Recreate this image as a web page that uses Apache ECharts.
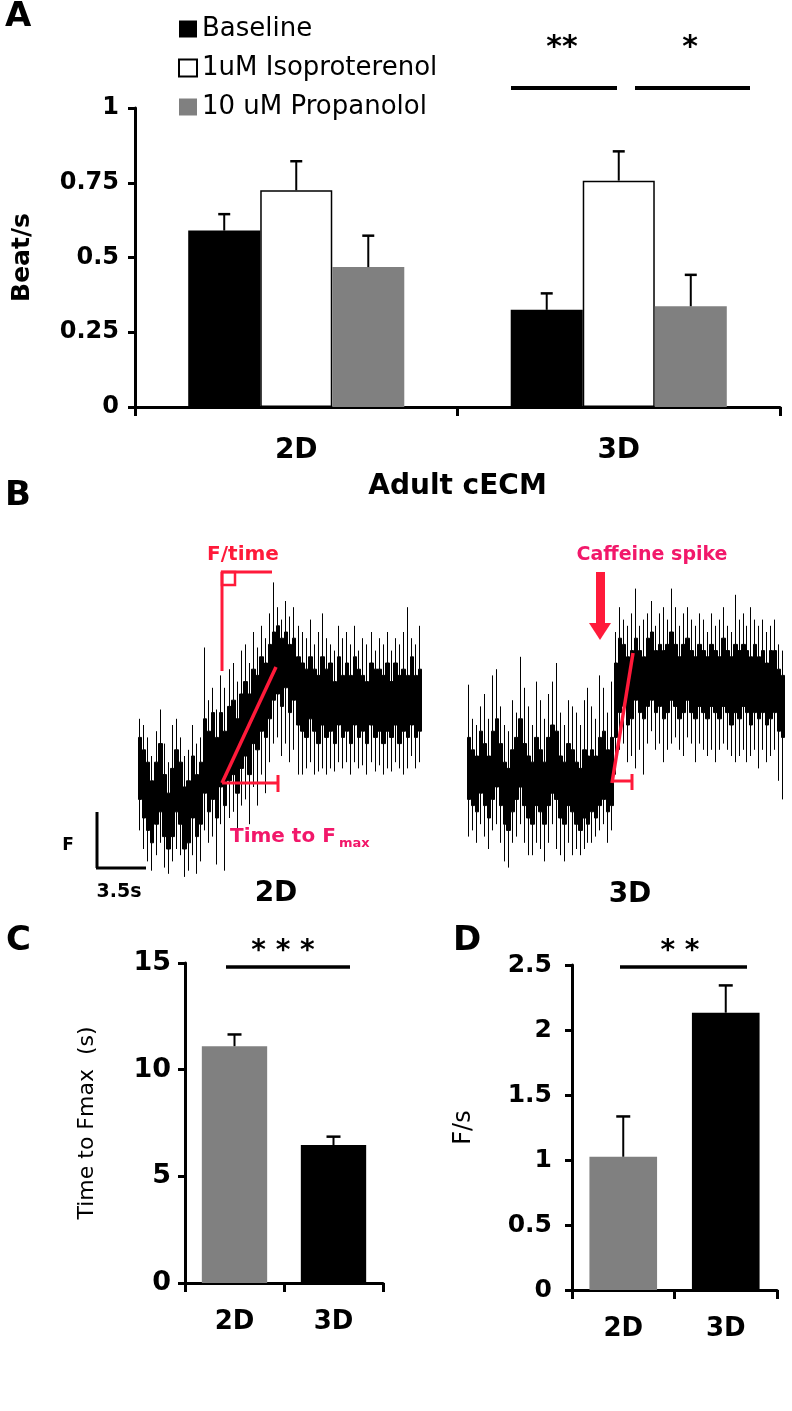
<!DOCTYPE html>
<html>
<head>
<meta charset="utf-8">
<script src="https://cdn.jsdelivr.net/npm/echarts@6/dist/echarts.min.js"></script>
<style>
html,body{margin:0;padding:0;background:#fff;}
#chart{width:792px;height:1411px;}
</style>
</head>
<body>
<div id="chart"></div>
<script>
// ---------- Panel A data ----------
const groupsA = ['2D', '3D'];
const seriesNamesA = ['Baseline', '1uM Isoproterenol', '10 uM Propanolol'];
const baseline = [0.59, 0.325];
const baselineErr = [0.055, 0.055];
const isoproterenol = [0.725, 0.757];
const isoproterenolErr = [0.097, 0.098];
const propanolol = [0.468, 0.337];
const propanololErr = [0.105, 0.105];

// ---------- Panel C / D data ----------
const groupsCD = ['2D', '3D'];
const timeToFmax = [11.1, 6.47];
const timeToFmaxErr = [0.55, 0.39];
const fPerS = [1.025, 2.133];
const fPerSErr = [0.31, 0.21];

// ---------- Panel B traces: [open, close, low, high] in arbitrary F units ----------
const trace2D = [
 [26,46,16,52],[20,42,10,50],[16,38,6,46],[12,32,3,40],[18,38,8,48],[22,44,12,55],[14,34,4,44],[10,28,2,38],
 [14,36,6,50],[22,42,10,52],[18,38,8,46],[10,30,1,40],[12,32,3,42],[20,40,8,50],[14,34,2,44],[18,38,6,46],
 [28,52,16,75],[22,48,12,58],[26,54,14,62],[20,46,5,55],[30,54,18,66],[24,48,3,62],[32,56,20,68],
 [34,58,22,70],[28,52,16,64],[36,60,24,74],[40,64,26,76],[34,60,18,70],[44,68,30,80],[42,66,24,75],
 [48,72,34,82],[46,70,28,78],[52,76,38,86],[58,80,44,96],
 [60,82,46,88],[56,78,40,84],[62,80,44,90],[54,76,38,85],[58,78,42,88],[50,72,34,82],
 [48,70,34,80],[46,68,36,78],[52,72,38,84],[48,68,34,76],[44,66,35,80],[50,72,36,86],[46,68,34,78],[48,70,36,76],
 [44,64,35,74],[50,72,38,82],[46,66,36,78],[48,70,38,80],[44,66,34,76],[50,72,38,82],[46,68,36,74],[48,66,37,78],
 [44,64,34,76],[50,70,38,80],[46,68,35,74],[48,68,37,78],[44,66,34,76],[48,70,36,80],[46,64,35,74],[50,70,38,78],
 [44,66,36,76],[48,68,34,80],[46,66,36,88],[50,72,40,78],[46,66,36,76],[48,68,38,82]
];
const trace3D = [
 [26,46,14,63],[24,42,16,52],[22,40,12,50],[28,48,18,56],[24,44,14,60],[20,40,10,52],[26,48,16,66],[30,52,18,68],
 [24,44,12,56],[18,38,6,50],[16,36,4,48],[22,42,12,58],[26,46,14,54],[30,52,18,72],[24,44,12,62],[20,40,8,56],
 [18,38,8,50],[24,46,12,64],[22,42,10,58],[18,38,6,52],[24,46,12,60],[28,50,18,64],[26,48,10,70],[20,40,8,54],
 [18,38,6,50],[24,44,12,58],[22,42,8,56],[18,38,10,54],[16,36,8,50],[20,42,10,58],[18,40,12,62],[22,42,12,56],
 [20,40,14,52],[24,46,16,66],[26,48,18,62],[22,42,12,54],[24,46,16,64],
 [46,70,34,80],[54,78,42,88],[56,76,44,84],[50,72,38,82],[52,74,40,86],[58,78,36,94],[54,74,42,82],[52,72,34,84],
 [56,78,44,86],[58,80,48,90],[54,74,42,82],[56,76,44,86],[52,74,38,88],[54,76,42,84],[58,80,44,94],[56,76,46,88],
 [52,72,42,82],[54,76,40,86],[58,78,46,88],[54,74,44,84],[52,72,38,82],[56,76,44,86],[54,74,42,84],[52,72,40,80],
 [56,76,42,86],[54,74,38,82],[52,72,42,84],[56,78,44,88],[54,74,42,82],[50,72,40,80],[54,76,38,92],[52,74,40,84],
 [56,76,42,86],[54,74,38,82],[50,72,40,88],[54,76,42,84],[52,72,36,82],[54,74,42,84],[50,70,38,80],[52,74,40,82],
 [54,74,42,84],[48,68,32,76],[46,66,26,74]
];

const FONT = 'DejaVu Sans';
const RED = '#ff1a3a';
const PINK = '#f2186a';

function errRenderer(nSeries, gapFrac, capW) {
  return function (params, api) {
    const cat = api.value(0), si = api.value(1), v = api.value(2), e = api.value(3);
    const band = api.size([1, 0])[0];
    const bw = band * (1 - gapFrac) / nSeries;
    const c0 = api.coord([cat, v]);
    const c1 = api.coord([cat, v + e]);
    const x = c0[0] + (si - (nSeries - 1) / 2) * bw;
    return {
      type: 'group',
      children: [
        {type: 'line', shape: {x1: x, y1: c0[1], x2: x, y2: c1[1]}, style: {stroke: '#000', lineWidth: 2}},
        {type: 'line', shape: {x1: x - capW / 2, y1: c1[1], x2: x + capW / 2, y2: c1[1]}, style: {stroke: '#000', lineWidth: 2.5}}
      ]
    };
  };
}

const errA = [];
[baselineErr, isoproterenolErr, propanololErr].forEach((errs, si) => {
  const vals = [baseline, isoproterenol, propanolol][si];
  errs.forEach((e, ci) => errA.push([ci, si, vals[ci], e]));
});
const errC = timeToFmax.map((v, i) => [i, 0, v, timeToFmaxErr[i]]);
const errD = fPerS.map((v, i) => [i, 0, v, fPerSErr[i]]);

const axisLineStyle = {show: true, lineStyle: {color: '#000', width: 3}};
const tickStyle = {show: true, length: 7, lineStyle: {color: '#000', width: 3}};
const boldLabel = (size, margin) => ({color: '#000', fontFamily: FONT, fontWeight: 'bold', fontSize: size, margin: margin});
const candleStyle = {color: '#000', color0: '#1a1a1a', borderColor: '#000', borderColor0: '#333', borderWidth: 1};

const chart = echarts.init(document.getElementById('chart'), null, {renderer: 'canvas'});

const option = {
  animation: false,
  backgroundColor: '#fff',
  textStyle: {fontFamily: FONT},
  legend: {
    orient: 'vertical', left: 173, top: 11, itemWidth: 18, itemHeight: 17, itemGap: 13,
    icon: 'rect',
    data: seriesNamesA,
    textStyle: {fontFamily: FONT, fontSize: 26, color: '#000', lineHeight: 26}
  },
  grid: [
    {left: 135, top: 108, width: 645, height: 299},      // A
    {left: 138, top: 570, width: 284, height: 310},      // B 2D trace
    {left: 467, top: 570, width: 318, height: 310},      // B 3D trace
    {left: 185, top: 963, width: 198, height: 320},      // C
    {left: 572, top: 965, width: 205, height: 325}       // D
  ],
  xAxis: [
    {gridIndex: 0, type: 'category', data: groupsA,
     axisLine: axisLineStyle, axisTick: Object.assign({}, tickStyle, {length: 9}),
     axisLabel: boldLabel(28, 30),
     name: 'Adult cECM', nameLocation: 'middle', nameGap: 66,
     nameTextStyle: {color: '#000', fontFamily: FONT, fontWeight: 'bold', fontSize: 28}},
    {gridIndex: 1, type: 'category', data: trace2D.map((d, i) => i), show: false},
    {gridIndex: 2, type: 'category', data: trace3D.map((d, i) => i), show: false},
    {gridIndex: 3, type: 'category', data: groupsCD,
     axisLine: axisLineStyle, axisTick: Object.assign({}, tickStyle, {length: 9}),
     axisLabel: boldLabel(26, 26)},
    {gridIndex: 4, type: 'category', data: groupsCD,
     axisLine: axisLineStyle, axisTick: Object.assign({}, tickStyle, {length: 9}),
     axisLabel: boldLabel(26, 26)}
  ],
  yAxis: [
    {gridIndex: 0, type: 'value', min: 0, max: 1, interval: 0.25,
     axisLine: axisLineStyle, axisTick: tickStyle, splitLine: {show: false},
     axisLabel: boldLabel(24, 16),
     name: 'Beat/s', nameLocation: 'middle', nameGap: 100,
     nameTextStyle: {color: '#000', fontFamily: FONT, fontWeight: 'bold', fontSize: 25}},
    {gridIndex: 1, type: 'value', min: 0, max: 100, show: false, splitLine: {show: false}},
    {gridIndex: 2, type: 'value', min: 0, max: 100, show: false, splitLine: {show: false}},
    {gridIndex: 3, type: 'value', min: 0, max: 15, interval: 5,
     axisLine: axisLineStyle, axisTick: tickStyle, splitLine: {show: false},
     axisLabel: boldLabel(27, 14),
     name: 'Time to Fmax  (s)', nameLocation: 'middle', nameGap: 87,
     nameTextStyle: {color: '#000', fontFamily: FONT, fontSize: 22}},
    {gridIndex: 4, type: 'value', min: 0, max: 2.5, interval: 0.5,
     axisLine: axisLineStyle, axisTick: tickStyle, splitLine: {show: false},
     axisLabel: boldLabel(25, 20),
     name: 'F/s', nameLocation: 'middle', nameGap: 96,
     nameTextStyle: {color: '#000', fontFamily: FONT, fontSize: 24}}
  ],
  series: [
    {name: seriesNamesA[0], type: 'bar', xAxisIndex: 0, yAxisIndex: 0, data: baseline,
     itemStyle: {color: '#000'}, barGap: '0%', barCategoryGap: '33%'},
    {name: seriesNamesA[1], type: 'bar', xAxisIndex: 0, yAxisIndex: 0, data: isoproterenol,
     itemStyle: {color: '#fff', borderColor: '#000', borderWidth: 1.5}, barGap: '0%', barCategoryGap: '33%'},
    {name: seriesNamesA[2], type: 'bar', xAxisIndex: 0, yAxisIndex: 0, data: propanolol,
     itemStyle: {color: '#808080'}, barGap: '0%', barCategoryGap: '33%'},
    {type: 'custom', xAxisIndex: 0, yAxisIndex: 0, data: errA, z: 5,
     encode: {x: 0, y: 2}, renderItem: errRenderer(3, 0.33, 12)},

    {type: 'candlestick', xAxisIndex: 1, yAxisIndex: 1, data: trace2D, barWidth: 4, itemStyle: candleStyle},
    {type: 'candlestick', xAxisIndex: 2, yAxisIndex: 2, data: trace3D, barWidth: 4, itemStyle: candleStyle},

    {type: 'bar', xAxisIndex: 3, yAxisIndex: 3, barCategoryGap: '34%',
     data: [{value: timeToFmax[0], itemStyle: {color: '#808080'}}, {value: timeToFmax[1], itemStyle: {color: '#000'}}]},
    {type: 'custom', xAxisIndex: 3, yAxisIndex: 3, data: errC, z: 5,
     encode: {x: 0, y: 2}, renderItem: errRenderer(1, 0.34, 14)},

    {type: 'bar', xAxisIndex: 4, yAxisIndex: 4, barCategoryGap: '34%',
     data: [{value: fPerS[0], itemStyle: {color: '#808080'}}, {value: fPerS[1], itemStyle: {color: '#000'}}]},
    {type: 'custom', xAxisIndex: 4, yAxisIndex: 4, data: errD, z: 5,
     encode: {x: 0, y: 2}, renderItem: errRenderer(1, 0.34, 14)}
  ],
  graphic: [
    // panel letters
    {type: 'text', left: 5, top: 0, style: {text: 'A', font: 'bold 34px "DejaVu Sans"', fill: '#000'}},
    {type: 'text', left: 5, top: 479, style: {text: 'B', font: 'bold 34px "DejaVu Sans"', fill: '#000'}},
    {type: 'text', left: 6, top: 924, style: {text: 'C', font: 'bold 34px "DejaVu Sans"', fill: '#000'}},
    {type: 'text', left: 453, top: 924, style: {text: 'D', font: 'bold 34px "DejaVu Sans"', fill: '#000'}},

    // significance, panel A
    {type: 'line', shape: {x1: 511, y1: 88, x2: 617, y2: 88}, style: {stroke: '#000', lineWidth: 4}},
    {type: 'line', shape: {x1: 635, y1: 88, x2: 750, y2: 88}, style: {stroke: '#000', lineWidth: 4}},
    {type: 'text', style: {text: '**', x: 562, y: 48, textAlign: 'center', textVerticalAlign: 'middle', font: 'bold 30px "DejaVu Sans"', fill: '#000'}},
    {type: 'text', style: {text: '*', x: 690, y: 48, textAlign: 'center', textVerticalAlign: 'middle', font: 'bold 30px "DejaVu Sans"', fill: '#000'}},

    // significance, panel C & D
    {type: 'line', shape: {x1: 226, y1: 967, x2: 350, y2: 967}, style: {stroke: '#000', lineWidth: 3.5}},
    {type: 'text', style: {text: '* * *', x: 283, y: 952, textAlign: 'center', textVerticalAlign: 'middle', font: 'bold 28px "DejaVu Sans"', fill: '#000'}},
    {type: 'line', shape: {x1: 620, y1: 967, x2: 747, y2: 967}, style: {stroke: '#000', lineWidth: 3.5}},
    {type: 'text', style: {text: '* *', x: 680, y: 952, textAlign: 'center', textVerticalAlign: 'middle', font: 'bold 28px "DejaVu Sans"', fill: '#000'}},

    // panel B scale bar
    {type: 'line', shape: {x1: 97, y1: 812, x2: 97, y2: 868}, style: {stroke: '#000', lineWidth: 3}},
    {type: 'line', shape: {x1: 96, y1: 868, x2: 146, y2: 868}, style: {stroke: '#000', lineWidth: 3}},
    {type: 'text', style: {text: 'F', x: 68, y: 846, textAlign: 'center', textVerticalAlign: 'middle', font: 'bold 17px "DejaVu Sans"', fill: '#000'}},
    {type: 'text', style: {text: '3.5s', x: 119, y: 892, textAlign: 'center', textVerticalAlign: 'middle', font: 'bold 19px "DejaVu Sans"', fill: '#000'}},
    {type: 'text', style: {text: '2D', x: 276, y: 894, textAlign: 'center', textVerticalAlign: 'middle', font: 'bold 28px "DejaVu Sans"', fill: '#000'}},
    {type: 'text', style: {text: '3D', x: 630, y: 895, textAlign: 'center', textVerticalAlign: 'middle', font: 'bold 28px "DejaVu Sans"', fill: '#000'}},

    // panel B red annotations, 2D
    {type: 'line', z: 100, shape: {x1: 222, y1: 572, x2: 222, y2: 671}, style: {stroke: RED, lineWidth: 3}},
    {type: 'line', z: 100, shape: {x1: 221, y1: 572, x2: 272, y2: 572}, style: {stroke: RED, lineWidth: 3}},
    {type: 'rect', z: 100, shape: {x: 222, y: 572, width: 13, height: 13}, style: {stroke: RED, fill: 'none', lineWidth: 2.5}},
    {type: 'text', z: 100, style: {text: 'F/time', x: 243, y: 555, textAlign: 'center', textVerticalAlign: 'middle', font: 'bold 20px "DejaVu Sans"', fill: RED}},
    {type: 'line', z: 100, shape: {x1: 222, y1: 783, x2: 276, y2: 667}, style: {stroke: RED, lineWidth: 3.5}},
    {type: 'line', z: 100, shape: {x1: 222, y1: 783, x2: 278, y2: 783}, style: {stroke: RED, lineWidth: 3}},
    {type: 'line', z: 100, shape: {x1: 278, y1: 775, x2: 278, y2: 792}, style: {stroke: RED, lineWidth: 3}},
    {type: 'text', z: 100, style: {text: 'Time to F', x: 230, y: 837, textAlign: 'left', textVerticalAlign: 'middle', font: 'bold 20px "DejaVu Sans"', fill: PINK}},
    {type: 'text', z: 100, style: {text: 'max', x: 339, y: 844, textAlign: 'left', textVerticalAlign: 'middle', font: 'bold 13px "DejaVu Sans"', fill: PINK}},

    // panel B red annotations, 3D
    {type: 'rect', z: 100, shape: {x: 596, y: 572, width: 9, height: 53}, style: {fill: RED}},
    {type: 'polygon', z: 100, shape: {points: [[589, 623], [611, 623], [600, 640]]}, style: {fill: RED}},
    {type: 'text', z: 100, style: {text: 'Caffeine spike', x: 652, y: 555, textAlign: 'center', textVerticalAlign: 'middle', font: 'bold 19px "DejaVu Sans"', fill: PINK}},
    {type: 'line', z: 100, shape: {x1: 612, y1: 783, x2: 633, y2: 653}, style: {stroke: RED, lineWidth: 3.5}},
    {type: 'line', z: 100, shape: {x1: 612, y1: 781, x2: 632, y2: 781}, style: {stroke: RED, lineWidth: 3}},
    {type: 'line', z: 100, shape: {x1: 632, y1: 774, x2: 632, y2: 790}, style: {stroke: RED, lineWidth: 3}}
  ]
};
chart.setOption(option);
</script>
</body>
</html>
